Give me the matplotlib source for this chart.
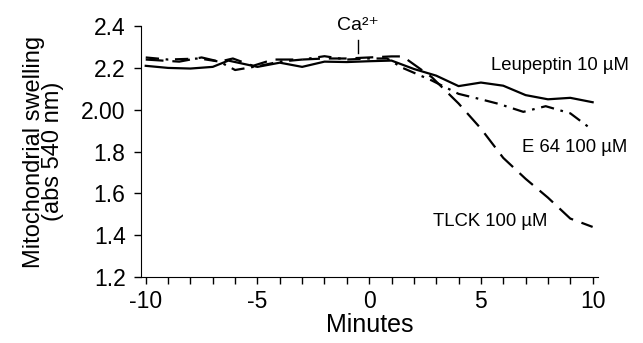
import matplotlib
matplotlib.use("Agg")
import matplotlib.pyplot as plt

plt.rcParams['font.family'] = ['Liberation Sans', 'DejaVu Sans']
plt.rcParams['axes.unicode_minus'] = False

# Leupeptin 10 uM (solid)
leu_x = [-10, -9, -8, -7, -6.3, -5, -4, -3, -2, -1, 0, 1, 2, 3, 4, 5, 6, 7, 8, 9, 10]
leu_y = [2.21, 2.20, 2.197, 2.205, 2.235, 2.205, 2.225, 2.205, 2.23, 2.228, 2.232,
         2.235, 2.195, 2.163, 2.113, 2.13, 2.115, 2.07, 2.05, 2.057, 2.036]

# E 64 100 uM (dash-dot)
e64_x = [-10, -9, -7.6, -6.7, -6, -4.9, -4, -3, -2, -1, 0, 0.8, 1.5, 2.8, 4, 5, 5.8, 6.9, 7.9, 9, 10]
e64_y = [2.25, 2.24, 2.245, 2.23, 2.19, 2.21, 2.23, 2.24, 2.256, 2.24, 2.245,
         2.245, 2.20, 2.14, 2.076, 2.05, 2.028, 1.99, 2.017, 1.983, 1.903]

# TLCK 100 uM (dashed)
tlck_x = [-10, -8.5, -7.5, -6.7, -6.1, -5.2, -4.3, -3, -2, -1, 0, 1, 1.5, 2.8, 4, 5, 6, 7, 8, 9, 10]
tlck_y = [2.24, 2.23, 2.25, 2.23, 2.245, 2.21, 2.24, 2.24, 2.245, 2.245, 2.25,
          2.255, 2.255, 2.156, 2.03, 1.91, 1.77, 1.67, 1.58, 1.48, 1.44]

yticks = [1.2, 1.4, 1.6, 1.8, 2.0, 2.2, 2.4]
ytick_labels = ["1.2", "1.4", "1.6", "1.8", "2.00", "2.2", "2.4"]
xticks = [-10, -5, 0, 5, 10]

fig = plt.figure(figsize=(6.43, 3.43), dpi=100)
ax = fig.add_axes([0.219, 0.192, 0.711, 0.732])

ax.plot(leu_x, leu_y, color='black', lw=1.6, linestyle='-')
ax.plot(e64_x, e64_y, color='black', lw=1.6, linestyle=(0, (6, 3, 1.2, 3)))
ax.plot(tlck_x, tlck_y, color='black', lw=1.6, linestyle=(0, (8, 4)))

ax.set_xlim(-10.22, 10.24)
ax.set_ylim(1.2, 2.4)
ax.set_xticks(xticks)
ax.set_xticks(range(-10, 11), minor=True)
ax.set_yticks(yticks)
ax.set_yticklabels(ytick_labels)
ax.spines['top'].set_visible(False)
ax.spines['right'].set_visible(False)
ax.tick_params(axis='both', which='both', direction='out', length=5, width=1, labelsize=16.5)
ax.tick_params(axis='x', pad=4)
ax.tick_params(axis='y', pad=6)

ax.set_xlabel("Minutes", fontsize=18, labelpad=0)
ax.set_ylabel("Mitochondrial swelling\n(abs 540 nm)", fontsize=17, linespacing=0.85, labelpad=12)

# Ca2+ addition marker
ax.plot([-0.5, -0.5], [2.27, 2.335], color='black', lw=1)
ax.text(-0.5, 2.36, "Ca²⁺", ha='center', va='bottom', fontsize=14)

ax.text(8.55, 2.21, "Leupeptin 10 µM", ha='center', va='center', fontsize=13.3)
ax.text(9.2, 1.82, "E 64 100 µM", ha='center', va='center', fontsize=13.3)
ax.text(5.4, 1.467, "TLCK 100 µM", ha='center', va='center', fontsize=13.3)

fig.savefig("out.png", dpi=100)
